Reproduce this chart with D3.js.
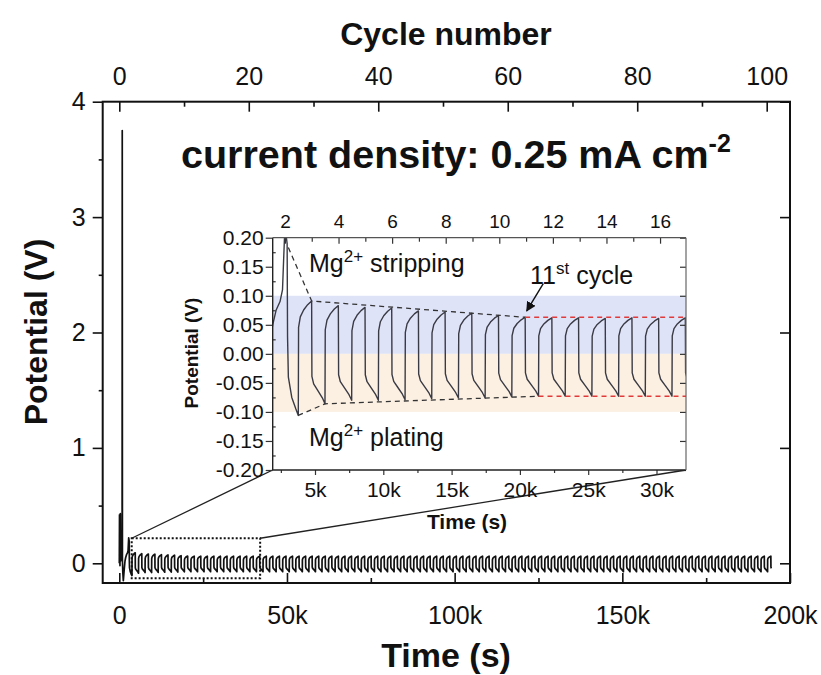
<!DOCTYPE html>
<html>
<head>
<meta charset="utf-8">
<script src="https://cdn.jsdelivr.net/npm/d3@7"></script>
<style>
body { margin: 0; background: #fff; }
text { font-family: "Liberation Sans", Arial, sans-serif; fill: #111; }
</style>
</head>
<body>
<div id="viz"></div>
<script>
// ---- values ----
// main axes
let timeTicks = [0, 50000, 100000, 150000, 200000]
let timeMinor = [25000, 75000, 125000, 175000]
let cycleTicks = [0, 20, 40, 60, 80, 100]
let cycleMinor = [10, 30, 50, 70, 90]
let potTicks = [0, 1, 2, 3, 4]
let potMinor = [0.5, 1.5, 2.5, 3.5]

// first part of the trace (formation spikes), [time s, potential V]
let startTrace = [
  [0, 0.0], [60, 0.42], [140, 0.38], [200, -0.02], [300, 0.43], [380, 0.02],
  [600, 0.05], [840, 0.1], [880, 3.75], [930, 0.03], [1050, -0.08], [1200, -0.15],
  [1450, -0.06], [1700, 0.02], [1903, 0.05], [2150, 0.075], [2440, 0.09],
  [2620, 0.11], [2700, 0.16], [2800, 0.22], [2960, 0.19], [2990, 0.03],
  [3050, -0.04], [3300, -0.075], [3600, -0.095], [3777, -0.106]
]

// cycle timing
let firstPeakTime = 2800   // stripping maximum of cycle 2
let cyclePeriod = 1954
let lastCycle = 100

// stripping maxima / plating minima of cycles 3..17 (inset)
let cycleIdx = [3, 4, 5, 6, 7, 8, 9, 10, 11, 12, 13, 14, 15, 16, 17]
let stripPeak = [0.091, 0.083, 0.080, 0.079, 0.074, 0.072, 0.070, 0.066, 0.063, 0.062, 0.062, 0.061, 0.062, 0.061, 0.062]
let platePeak = [-0.086, -0.080, -0.080, -0.079, -0.077, -0.076, -0.076, -0.074, -0.073, -0.073, -0.073, -0.073, -0.073, -0.073, -0.073]
// later cycles sit on the red dashed lines
let stableStrip = 0.062
let stablePlate = -0.073

// shape of one half cycle: [fraction of half period, fraction of the extreme]
let stripShape = [[0.02, 0.5], [0.15, 0.7], [0.4, 0.83], [0.7, 0.93], [1, 1]]
let plateShape = [[0.02, 0.45], [0.15, 0.6], [0.5, 0.75], [0.8, 0.88], [1, 1]]

// inset
let insetTimeTicks = [5000, 10000, 15000, 20000, 25000, 30000]
let insetTimeMinor = [2500, 7500, 12500, 17500, 22500, 27500]
let insetPotTicks = [-0.2, -0.15, -0.1, -0.05, 0, 0.05, 0.1, 0.15, 0.2]
let insetPotMinor = [-0.175, -0.125, -0.075, -0.025, 0.025, 0.075, 0.125, 0.175]
let insetCycleTicks = [2, 4, 6, 8, 10, 12, 14, 16]
let insetCycleMinor = [3, 5, 7, 9, 11, 13, 15]
let insetCycleTime = [2800, 30260]   // times of cycle 2 and cycle 16 labels
let insetTimeRange = [1903, 32160]

let topEnvelope = [[3050, 0.183], [4754, 0.091], [20386, 0.063]]
let bottomEnvelope = [[3777, -0.106], [5731, -0.086], [21363, -0.073]]
let redTop = [[20386, 0.063], [32160, 0.063]]
let redBottom = [[21363, -0.073], [32160, -0.073]]
let stripBand = [0, 0.1]
let plateBand = [-0.1, 0]
let arrowPts = [[21710, 0.121], [20500, 0.074]]

// dotted box on the main plot: time from/to, potential from/to
let zoomBox = [3700, 42000, -0.13, 0.217]

// ---- build the full trace ----
let trace = startTrace.slice()
let half = cyclePeriod / 2
for (let c = 3; c <= lastCycle; c++) {
  let i = cycleIdx.indexOf(c)
  let P = i >= 0 ? stripPeak[i] : stableStrip
  let Q = i >= 0 ? platePeak[i] : stablePlate
  let tp = firstPeakTime + (c - 2) * cyclePeriod
  stripShape.forEach(d => trace.push([tp - half + d[0] * half, d[1] * P]))
  let pl = c === lastCycle ? plateShape.slice(0, 2) : plateShape
  pl.forEach(d => trace.push([tp + d[0] * half, d[1] * Q]))
}

// ---- svg ----
let svg = d3.select("#viz").append("svg")
  .attr("width", 821)
  .attr("height", 675)

let frame = {left: 102.7, right: 790, top: 101.7, bottom: 583}

let x = d3.scaleLinear().domain([0, 200000]).range([119.3, 790])
let xc = d3.scaleLinear().domain([0, 100]).range([119.3, 766.7])
let y = d3.scaleLinear().domain([0, 4]).range([563.3, 101.7])

let fmtK = d => d === 0 ? "0" : (d / 1000) + "k"

// main trace
svg.append("path")
  .datum(trace)
  .attr("fill", "none")
  .attr("stroke", "#111")
  .attr("stroke-width", 1.7)
  .attr("stroke-linejoin", "round")
  .attr("d", d3.line().x(d => x(d[0])).y(d => y(d[1])))

// axes
function styleAxis(g, size) {
  g.select(".domain").remove()
  g.selectAll(".tick line").attr("stroke", "#111").attr("stroke-width", 1.6)
  g.selectAll(".tick text").attr("font-size", size).attr("fill", "#111")
    .attr("font-family", "Liberation Sans, Arial, sans-serif")
}

svg.append("g").attr("transform", `translate(0,${frame.bottom})`)
  .call(d3.axisBottom(x).tickValues(timeTicks).tickFormat(fmtK).tickSizeInner(-10).tickSizeOuter(0).tickPadding(23))
  .call(g => styleAxis(g, 25))
svg.append("g").attr("transform", `translate(0,${frame.bottom})`)
  .call(d3.axisBottom(x).tickValues(timeMinor).tickFormat("").tickSizeInner(-5).tickSizeOuter(0))
  .call(g => styleAxis(g, 25))

svg.append("g").attr("transform", `translate(0,${frame.top})`)
  .call(d3.axisTop(xc).tickValues(cycleTicks).tickFormat(d3.format("d")).tickSizeInner(-10).tickSizeOuter(0).tickPadding(17))
  .call(g => styleAxis(g, 25))
svg.append("g").attr("transform", `translate(0,${frame.top})`)
  .call(d3.axisTop(xc).tickValues(cycleMinor).tickFormat("").tickSizeInner(-5).tickSizeOuter(0))
  .call(g => styleAxis(g, 25))

svg.append("g").attr("transform", `translate(${frame.left},0)`)
  .call(d3.axisLeft(y).tickValues(potTicks).tickFormat(d3.format("d")).tickSizeInner(10).tickSizeOuter(0).tickPadding(7))
  .call(g => styleAxis(g, 25))
svg.append("g").attr("transform", `translate(${frame.left},0)`)
  .call(d3.axisLeft(y).tickValues(potMinor).tickFormat("").tickSizeInner(4).tickSizeOuter(0))
  .call(g => styleAxis(g, 25))

svg.append("g").attr("transform", `translate(${frame.right},0)`)
  .call(d3.axisRight(y).tickValues(potTicks).tickFormat("").tickSizeInner(-10).tickSizeOuter(0))
  .call(g => styleAxis(g, 25))

svg.append("rect")
  .attr("x", frame.left).attr("y", frame.top)
  .attr("width", frame.right - frame.left).attr("height", frame.bottom - frame.top)
  .attr("fill", "none").attr("stroke", "#111").attr("stroke-width", 2)

// axis titles
svg.append("text").attr("x", 446).attr("y", 45).attr("text-anchor", "middle")
  .attr("font-size", 32).attr("font-weight", "bold").text("Cycle number")
svg.append("text").attr("x", 446).attr("y", 667).attr("text-anchor", "middle")
  .attr("font-size", 34).attr("font-weight", "bold").text("Time (s)")
svg.append("text").attr("transform", "translate(47,332) rotate(-90)").attr("text-anchor", "middle")
  .attr("font-size", 32).attr("font-weight", "bold").text("Potential (V)")

// title
let title = svg.append("text").attr("x", 181).attr("y", 168)
  .attr("font-size", 39.5).attr("font-weight", "bold")
title.append("tspan").text("current density: 0.25 mA cm")
title.append("tspan").attr("dy", -16).attr("font-size", 25).text("-2")

// dotted zoom box
svg.append("rect")
  .attr("x", x(zoomBox[0])).attr("y", y(zoomBox[3]))
  .attr("width", x(zoomBox[1]) - x(zoomBox[0]))
  .attr("height", y(zoomBox[2]) - y(zoomBox[3]))
  .attr("fill", "none").attr("stroke", "#111").attr("stroke-width", 2)
  .attr("stroke-dasharray", "2,2")

// ---- inset ----
let ib = {left: 272.7, right: 686, top: 237.7, bottom: 470}
let ix = d3.scaleLinear().domain([5000, 30000]).range([315, 656.5])
let iy = d3.scaleLinear().domain([-0.2, 0.2]).range([ib.bottom, ib.top])
let ic = d3.scaleLinear().domain([2, 16]).range(insetCycleTime.map(ix))

// connecting lines
svg.append("line").attr("x1", ib.left).attr("y1", ib.bottom)
  .attr("x2", x(zoomBox[0])).attr("y2", y(zoomBox[3]))
  .attr("stroke", "#222").attr("stroke-width", 1.3)
svg.append("line").attr("x1", ib.right).attr("y1", ib.bottom)
  .attr("x2", x(zoomBox[1])).attr("y2", y(zoomBox[3]))
  .attr("stroke", "#222").attr("stroke-width", 1.3)

svg.append("rect").attr("x", ib.left).attr("y", ib.top)
  .attr("width", ib.right - ib.left).attr("height", ib.bottom - ib.top)
  .attr("fill", "#fff")

svg.append("rect").attr("x", ib.left).attr("y", iy(stripBand[1]))
  .attr("width", ib.right - ib.left).attr("height", iy(stripBand[0]) - iy(stripBand[1]))
  .attr("fill", "#dfe3f8")
svg.append("rect").attr("x", ib.left).attr("y", iy(plateBand[1]))
  .attr("width", ib.right - ib.left).attr("height", iy(plateBand[0]) - iy(plateBand[1]))
  .attr("fill", "#fcf0e3")

svg.append("clipPath").attr("id", "iclip")
  .append("rect").attr("x", ib.left).attr("y", ib.top)
  .attr("width", ib.right - ib.left).attr("height", ib.bottom - ib.top)

let iline = d3.line().x(d => ix(d[0])).y(d => iy(d[1]))
let inTrace = trace.filter(d => d[0] >= insetTimeRange[0] - 2000 && d[0] <= insetTimeRange[1] + 2000)

let ig = svg.append("g").attr("clip-path", "url(#iclip)")
ig.append("path").datum(inTrace)
  .attr("fill", "none").attr("stroke", "#3a3a44").attr("stroke-width", 1.4)
  .attr("stroke-linejoin", "round").attr("d", iline)

ig.append("path").datum(topEnvelope).attr("d", iline)
  .attr("fill", "none").attr("stroke", "#333").attr("stroke-width", 1.3).attr("stroke-dasharray", "5,4")
ig.append("path").datum(bottomEnvelope).attr("d", iline)
  .attr("fill", "none").attr("stroke", "#333").attr("stroke-width", 1.3).attr("stroke-dasharray", "5,4")
ig.append("path").datum(redTop).attr("d", iline)
  .attr("fill", "none").attr("stroke", "#e03a3a").attr("stroke-width", 1.6).attr("stroke-dasharray", "5,4")
ig.append("path").datum(redBottom).attr("d", iline)
  .attr("fill", "none").attr("stroke", "#e03a3a").attr("stroke-width", 1.6).attr("stroke-dasharray", "5,4")

// inset axes
function styleInset(g, size) {
  g.select(".domain").remove()
  g.selectAll(".tick line").attr("stroke", "#333").attr("stroke-width", 1.2)
  g.selectAll(".tick text").attr("font-size", size).attr("fill", "#111")
    .attr("font-family", "Liberation Sans, Arial, sans-serif")
}
let ifmt = d3.format(".2f")

svg.append("g").attr("transform", `translate(${ib.left},0)`)
  .call(d3.axisLeft(iy).tickValues(insetPotTicks).tickFormat(d => ifmt(d).replace("−", "-")).tickSizeInner(7).tickSizeOuter(0).tickPadding(2))
  .call(g => styleInset(g, 21))
svg.append("g").attr("transform", `translate(${ib.left},0)`)
  .call(d3.axisLeft(iy).tickValues(insetPotMinor).tickFormat("").tickSizeInner(-3).tickSizeOuter(0))
  .call(g => styleInset(g, 21))
svg.append("g").attr("transform", `translate(${ib.right},0)`)
  .call(d3.axisRight(iy).tickValues(insetPotTicks).tickFormat("").tickSizeInner(-6).tickSizeOuter(0))
  .call(g => styleInset(g, 21))
svg.append("g").attr("transform", `translate(0,${ib.bottom})`)
  .call(d3.axisBottom(ix).tickValues(insetTimeTicks).tickFormat(fmtK).tickSizeInner(5).tickSizeOuter(0).tickPadding(7))
  .call(g => styleInset(g, 21))
svg.append("g").attr("transform", `translate(0,${ib.bottom})`)
  .call(d3.axisBottom(ix).tickValues(insetTimeMinor).tickFormat("").tickSizeInner(3).tickSizeOuter(0))
  .call(g => styleInset(g, 21))
svg.append("g").attr("transform", `translate(0,${ib.top})`)
  .call(d3.axisTop(ic).tickValues(insetCycleTicks).tickSizeInner(-6).tickSizeOuter(0).tickPadding(10))
  .call(g => styleInset(g, 19))
svg.append("g").attr("transform", `translate(0,${ib.top})`)
  .call(d3.axisTop(ic).tickValues(insetCycleMinor).tickFormat("").tickSizeInner(-4).tickSizeOuter(0))
  .call(g => styleInset(g, 19))

svg.append("line").attr("x1", ib.left).attr("x2", ib.left).attr("y1", ib.top).attr("y2", ib.bottom)
  .attr("stroke", "#222").attr("stroke-width", 1.4)
svg.append("line").attr("x1", ib.left).attr("x2", ib.right).attr("y1", ib.bottom).attr("y2", ib.bottom)
  .attr("stroke", "#222").attr("stroke-width", 1.4)
svg.append("line").attr("x1", ib.left).attr("x2", ib.right).attr("y1", ib.top).attr("y2", ib.top)
  .attr("stroke", "#555").attr("stroke-width", 1.2)
svg.append("line").attr("x1", ib.right).attr("x2", ib.right).attr("y1", ib.top).attr("y2", ib.bottom)
  .attr("stroke", "#666").attr("stroke-width", 1.2)

// inset titles
svg.append("text").attr("x", 467).attr("y", 529).attr("text-anchor", "middle")
  .attr("font-size", 21).attr("font-weight", "bold").text("Time (s)")
svg.append("text").attr("transform", "translate(198,353) rotate(-90)").attr("text-anchor", "middle")
  .attr("font-size", 19).attr("font-weight", "bold").text("Potential (V)")

// annotations
function supText(px, py, base, sup, rest) {
  let t = svg.append("text").attr("x", px).attr("y", py).attr("font-size", 25)
  t.append("tspan").text(base)
  t.append("tspan").attr("dy", -10).attr("font-size", 17).text(sup)
  t.append("tspan").attr("dy", 10).attr("font-size", 25).text(rest)
}
supText(309, 272, "Mg", "2+", " stripping")
supText(309, 446, "Mg", "2+", " plating")
supText(530, 284, "11", "st", " cycle")

svg.append("defs").append("marker")
  .attr("id", "arr").attr("viewBox", "0 0 10 10").attr("refX", 9).attr("refY", 5)
  .attr("markerWidth", 7).attr("markerHeight", 7).attr("orient", "auto")
  .append("path").attr("d", "M0,0 L10,5 L0,10 z").attr("fill", "#111")
svg.append("line")
  .attr("x1", ix(arrowPts[0][0])).attr("y1", iy(arrowPts[0][1]))
  .attr("x2", ix(arrowPts[1][0])).attr("y2", iy(arrowPts[1][1]))
  .attr("stroke", "#111").attr("stroke-width", 1.4).attr("marker-end", "url(#arr)")
</script>
</body>
</html>
